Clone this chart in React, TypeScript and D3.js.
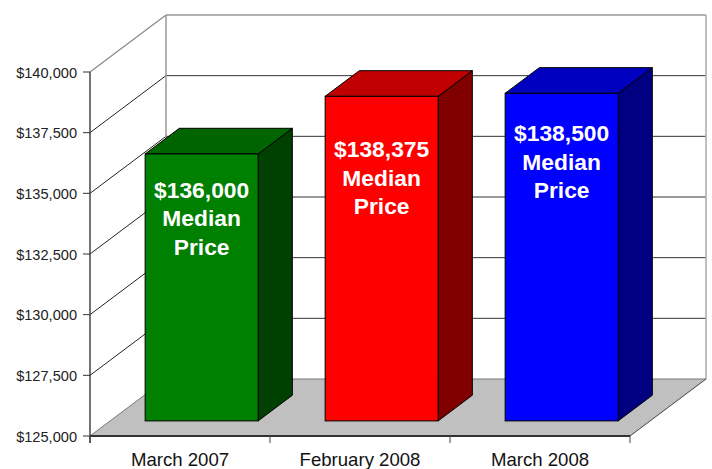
import React from "react";
import * as d3 from "d3";

const categories = ["March 2007", "February 2008", "March 2008"];
const values = [136000, 138375, 138500];
const labelLines = [
  ["$136,000", "Median", "Price"],
  ["$138,375", "Median", "Price"],
  ["$138,500", "Median", "Price"],
];
const yTicks = [125000, 127500, 130000, 132500, 135000, 137500, 140000];

const frontColors = ["#008000", "#ff0000", "#0000ff"];
const topColors = ["#006400", "#c00000", "#0000c0"];
const sideColors = ["#004000", "#800000", "#000080"];
const labelOffsets = [44, 61, 48];

const W = 712;
const H = 469;
const FONT = "'Liberation Sans', Arial, sans-serif";

export default function App() {
  const x0 = 90;
  const x1 = 630;
  const y = d3.scaleLinear().domain([125000, 140000]).range([436, 72]);
  const xb = d3.scaleBand<string>().domain(categories).range([x0, x1]).padding(0);
  const DX = 76;
  const DY = -57;
  const fFront = 0.265;
  const fDepth = 0.45;
  const fmt = (v: number) => "$" + d3.format(",")(v);
  const yBase = y(125000);
  const yTop = y(140000);

  const barW = 113;

  return (
    <svg width={W} height={H} style={{ position: "absolute", left: 0, top: 0 }}>
      <rect width={W} height={H} fill="#fff" />
      {/* back wall gridlines */}
      {yTicks.slice(1, -1).map((t) => (
        <g key={"g" + t}>
          <line x1={x0 + DX} x2={x1 + DX} y1={y(t) + DY} y2={y(t) + DY} stroke="#333" strokeWidth={1} />
          <line x1={x0} x2={x0 + DX} y1={y(t)} y2={y(t) + DY} stroke="#222" strokeWidth={1} />
        </g>
      ))}
      {/* frame */}
      <line x1={x0 + DX} x2={x1 + DX} y1={yTop + DY} y2={yTop + DY} stroke="#999" strokeWidth={1.5} />
      <line x1={x0} x2={x0 + DX} y1={yTop} y2={yTop + DY} stroke="#888" strokeWidth={1.2} />
      <line x1={x0 + DX} x2={x0 + DX} y1={yTop + DY} y2={yBase + DY} stroke="#999" strokeWidth={1.5} />
      <line x1={x1 + DX} x2={x1 + DX} y1={yTop + DY} y2={yBase + DY} stroke="#aaa" strokeWidth={1.5} />
      {/* floor */}
      <polygon
        points={`${x0},${yBase} ${x0 + DX},${yBase + DY} ${x1 + DX},${yBase + DY} ${x1},${yBase}`}
        fill="#c0c0c0"
      />
      <line x1={x0 + DX} x2={x1 + DX} y1={yBase + DY} y2={yBase + DY} stroke="#777" strokeWidth={1} />
      <line x1={x0} x2={x0 + DX} y1={yBase} y2={yBase + DY} stroke="#777" strokeWidth={1} />
      <line x1={x1} x2={x1 + DX} y1={yBase} y2={yBase + DY} stroke="#444" strokeWidth={1} />
      {/* bars */}
      {categories.map((c, i) => {
        const cx = (xb(c) as number) + xb.bandwidth() / 2 + DX * fFront + 1.5;
        const left = cx - barW / 2;
        const right = cx + barW / 2;
        const oy = DY * fFront;
        const bottom = yBase + oy;
        const top = y(values[i]) + oy;
        const ddx = DX * fDepth;
        const ddy = DY * fDepth;
        return (
          <g key={c}>
            <polygon
              points={`${right},${top} ${right + ddx},${top + ddy} ${right + ddx},${bottom + ddy} ${right},${bottom}`}
              fill={sideColors[i]}
              stroke="#000"
              strokeWidth={1}
            />
            <polygon
              points={`${left},${top} ${left + ddx},${top + ddy} ${right + ddx},${top + ddy} ${right},${top}`}
              fill={topColors[i]}
              stroke="#000"
              strokeWidth={1}
            />
            <rect x={left} y={top} width={barW} height={bottom - top} fill={frontColors[i]} stroke="#000" strokeWidth={1} />
            {labelLines[i].map((ln, k) => (
              <text
                key={k}
                x={cx}
                y={top + labelOffsets[i] + k * 28.3}
                textAnchor="middle"
                fill="#fff"
                fontFamily={FONT}
                fontWeight="bold"
                fontSize={22.8}
              >
                {ln}
              </text>
            ))}
          </g>
        );
      })}
      {/* axes */}
      <line x1={x0} x2={x0} y1={yTop} y2={yBase + 7} stroke="#444" strokeWidth={1.5} />
      <line x1={x0} x2={x1} y1={yBase} y2={yBase} stroke="#333" strokeWidth={2} />
      {yTicks.map((t) => (
        <g key={"t" + t}>
          <line x1={x0 - 7} x2={x0} y1={y(t)} y2={y(t)} stroke="#333" strokeWidth={1} />
          <text x={77} y={y(t) + 5.5} textAnchor="end" fontFamily={FONT} fontSize={14.6} fill="#222">
            {fmt(t)}
          </text>
        </g>
      ))}
      {[x0, ...categories.map((c) => (xb(c) as number) + xb.bandwidth())].map((xx, i) => (
        <line key={"xt" + i} x1={xx} x2={xx} y1={yBase} y2={yBase + 7} stroke="#444" strokeWidth={1} />
      ))}
      {categories.map((c) => (
        <text
          key={"l" + c}
          x={(xb(c) as number) + xb.bandwidth() / 2}
          y={466}
          textAnchor="middle"
          fontFamily={FONT}
          fontSize={18.6}
          fill="#111"
        >
          {c}
        </text>
      ))}
    </svg>
  );
}
